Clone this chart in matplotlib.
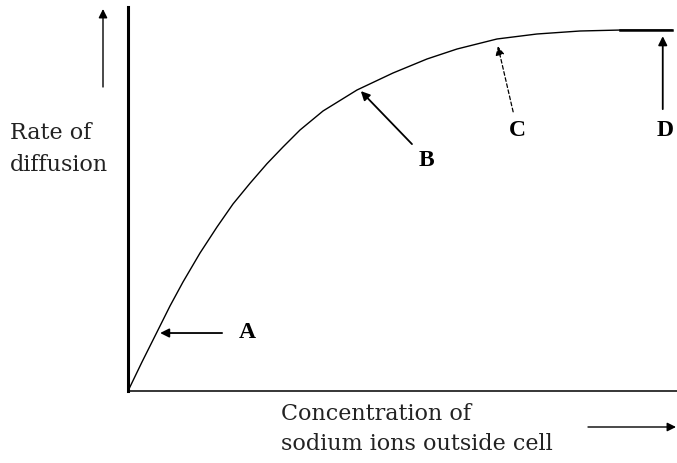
import matplotlib.pyplot as plt

# curve (x: concentration, y: rate, both 0-100)
conc = [0, 2.57, 5.33, 7.72, 10.11, 13.24, 16.36, 19.30, 22.43, 25.55, 28.49, 31.62,
        35.85, 42.10, 48.71, 54.96, 60.48, 67.83, 75.18, 83.09, 90.44, 100]
rate = [0, 7.55, 15.36, 22.14, 28.39, 35.94, 42.71, 48.7, 54.1, 59.2, 63.54, 67.97,
        72.92, 78.39, 82.81, 86.46, 89.06, 91.67, 92.97, 93.75, 94.0, 94.0]

labels = ['A', 'B', 'C', 'D']
points = [(5.9, 15.1), (42.8, 78.1), (68.0, 89.8), (98.3, 92.4)]
tails = [(17.3, 15.1), (52.2, 64.3), (70.8, 72.7), (98.3, 73.4)]
label_pos = [(22.0, 15.4), (54.8, 60.2), (71.5, 68.2), (98.7, 68.2)]

W, H = 677, 464
fig = plt.figure(figsize=(W / 100, H / 100), dpi=100)
ax = fig.add_axes([128 / W, 72 / H, (W - 128) / W, 384 / H])
ax.set_xlim(0, 100 * (W - 128) / 544)
ax.set_ylim(0, 100)

for s in ['top', 'right']:
    ax.spines[s].set_visible(False)
ax.spines['left'].set_linewidth(2.2)
ax.spines['bottom'].set_linewidth(1.1)
ax.set_xticks([])
ax.set_yticks([])

ax.plot(conc, rate, color='black', lw=1.0, solid_joinstyle='round')
# plateau looks a bit heavier at the right end
ax.plot(conc[-2:], rate[-2:], color='black', lw=1.8)

for lab, p, t, lp in zip(labels, points, tails, label_pos):
    ls = (0, (3, 2)) if lab == 'C' else '-'
    ax.annotate('', xy=p, xytext=t,
                arrowprops=dict(arrowstyle='-|>', color='black', lw=1.3 if lab != 'C' else 0.9,
                                linestyle=ls, mutation_scale=13, shrinkA=0, shrinkB=0))
    ax.text(lp[0], lp[1], lab, fontsize=17, fontweight='bold', family='Liberation Serif',
            ha='center', va='center')

# axis direction arrows outside the plot
ax.annotate('', xy=(103, H - 10), xytext=(103, H - 88), xycoords='figure pixels',
            textcoords='figure pixels',
            arrowprops=dict(arrowstyle='-|>', color='black', lw=1.0, mutation_scale=13,
                            shrinkA=0, shrinkB=0), annotation_clip=False)
ax.annotate('', xy=(676, H - 428), xytext=(588, H - 428), xycoords='figure pixels',
            textcoords='figure pixels',
            arrowprops=dict(arrowstyle='-|>', color='black', lw=1.0, mutation_scale=13,
                            shrinkA=0, shrinkB=0), annotation_clip=False)

txt = dict(fontsize=16, family='DejaVu Serif', color='#222222', va='center', ha='left')
fig.text(10 / W, (H - 133) / H, 'Rate of', **txt)
fig.text(10 / W, (H - 165) / H, 'diffusion', **txt)
fig.text(281 / W, (H - 414) / H, 'Concentration of', **txt)
fig.text(281 / W, (H - 444) / H, 'sodium ions outside cell', **txt)

fig.savefig('out.png', dpi=100)
